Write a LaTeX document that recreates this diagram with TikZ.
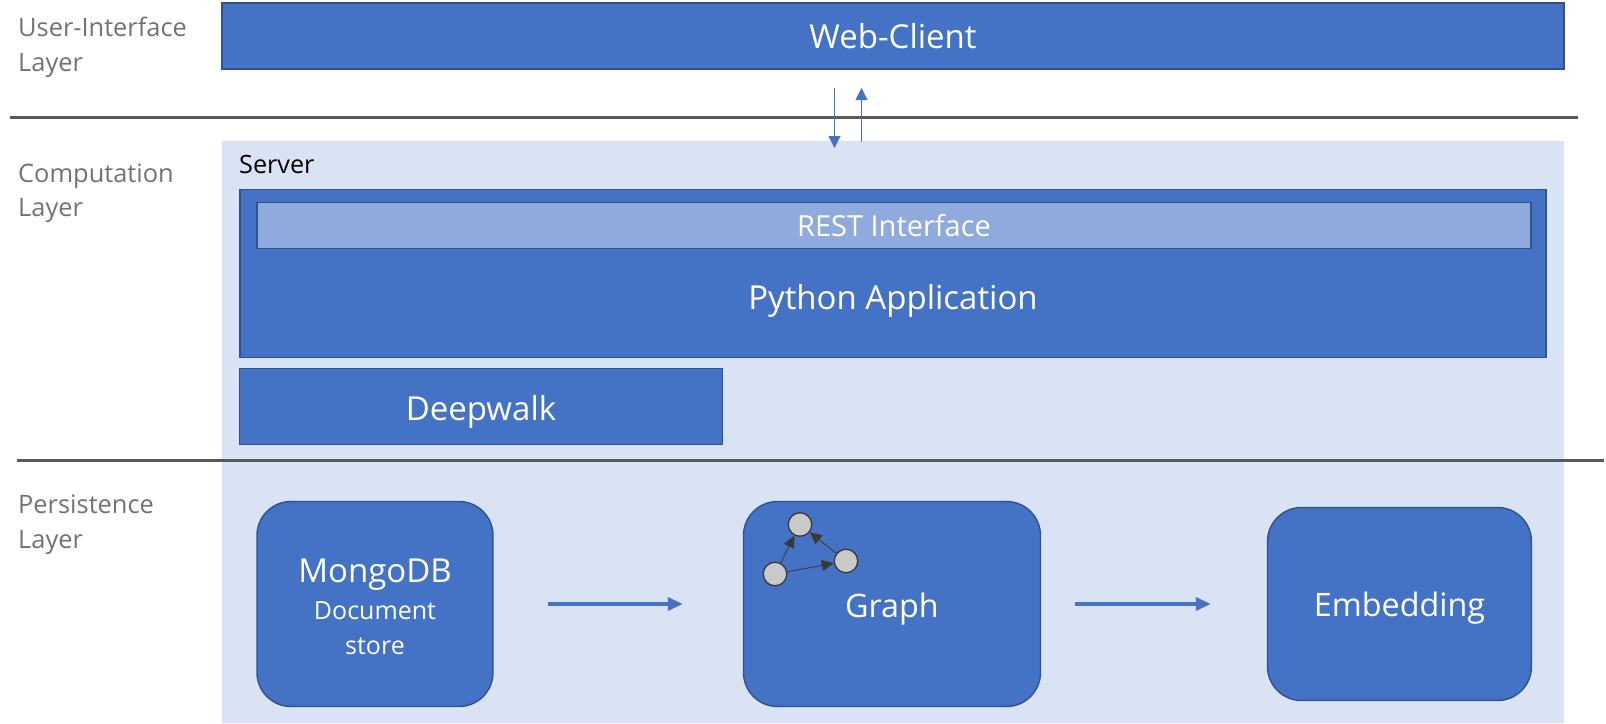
\documentclass[tikz,border=0pt]{standalone}
\usepackage{fontspec}
\setmainfont{Open Sans}
\usetikzlibrary{
		positioning,
		arrows.meta
	}
\tikzset{
		>={Triangle[length=12pt, width=12pt]}
	}
\definecolor{boxblue}{HTML}{4472C4}
\definecolor{boxedge}{HTML}{2F528F}
\definecolor{serverblue}{HTML}{DAE3F3}
\definecolor{restblue}{HTML}{8FAADC}
\definecolor{rulegray}{HTML}{595959}
\definecolor{labelgray}{HTML}{767171}
\definecolor{dotgray}{HTML}{C9C9C9}
\definecolor{dotedge}{HTML}{3B3838}

\begin{document}
\begin{tikzpicture}[x=1pt, y=-1pt,
				block/.style={draw=boxedge, line width=1.4pt, fill=boxblue, text=white, inner sep=0pt, font=\fontsize{33}{40}\selectfont},
				store/.style={block, rounded corners=34pt, align=center},
				dropped/.style={text height=35pt, text depth=7pt},
				layer/.style={anchor=west, align=left, inner sep=0pt, text=labelgray, font=\fontsize{25.4}{34.5}\selectfont},
				rulers/.style={draw=rulegray, line width=3pt},
				dot/.style={circle, draw=dotedge, line width=1.3pt, fill=dotgray, inner sep=0pt, minimum size=23.5pt},
				dotarrow/.style={draw=dotedge, line width=0.8pt, -{Triangle[length=12pt, width=11pt]}},
				flow/.style={draw=boxblue, line width=3.5pt, -{Triangle[length=15pt, width=13pt]}},
				call/.style={draw=boxblue, line width=1pt, ->}]
	\useasboundingbox (0,0) rectangle (1606,723);

	% layers
	\node[layer] (uilayer) at (18,47.5) {User-Interface\\Layer};
	\node[layer] (complayer) at (18,193) {Computation\\Layer};
	\node[layer] (perslayer) at (18,524.5) {Persistence\\Layer};

	% server background
	\node[fill=serverblue, inner sep=0pt, minimum width=1342pt, minimum height=582pt] (server) at (893,432) {};
	\node[anchor=west, inner sep=0pt, font=\fontsize{25.2}{30}\selectfont] (serverlabel) at (239,164) {Server};

	% boxes
	\node[block, minimum width=1342pt, minimum height=66pt] (webclient) at (893,36) {Web-Client};
	\node[block, minimum width=1306pt, minimum height=168pt] (python) at (893,273.5) {};
	\node[text=white, font=\fontsize{33}{40}\selectfont, inner sep=0pt] (pythonlabel) at (893,300.5) {Python Application};
	\node[block, fill=restblue, minimum width=1274pt, minimum height=46pt, font=\fontsize{29}{34}\selectfont] (rest) at (894,225.5) {REST Interface};
	\node[block, dropped, minimum width=483pt, minimum height=76pt] (deepwalk) at (481,406.5) {Deepwalk};

	% rules between the layers
	\coordinate (ruleAleft) at (10,117.5);
	\coordinate (ruleAright) at (1578,117.5);
	\coordinate (ruleBleft) at (17,460.5);
	\coordinate (ruleBright) at (1604,460.5);
	\draw[rulers] (ruleAleft) -- (ruleAright);
	\draw[rulers] (ruleBleft) -- (ruleBright);

	% calls between client and server
	\coordinate (downtop) at (834.5,88);
	\coordinate (downend) at (834.5,148);
	\coordinate (upstart) at (861.5,142);
	\coordinate (upend) at (861.5,88);
	\draw[call] (downtop) -- (downend);
	\draw[call] (upstart) -- (upend);

	% persistence
	\node[store, minimum width=236pt, minimum height=205pt] (mongodb) at (375,604) {\\[-11pt]MongoDB\\[-3pt]{\fontsize{25}{35}\selectfont Document}\\[-5pt]{\fontsize{25}{35}\selectfont store}};
	\node[store, dropped, text height=33pt, minimum width=297pt, minimum height=205pt, font=\fontsize{32.3}{40}\selectfont] (graph) at (892,604) {Graph};
	\node[store, dropped, text height=32pt, minimum width=264pt, minimum height=193pt, font=\fontsize{32.3}{40}\selectfont] (embedding) at (1399.5,604) {Embedding};
	\draw[flow, shorten <=54pt, shorten >=60pt] (mongodb) -- (graph);
	\draw[flow, shorten <=34pt, shorten >=56pt] (graph) -- (embedding);

	% small graph
	\node[dot] (dottop) at (800,524.5) {};
	\node[dot] (dotright) at (846,561) {};
	\node[dot] (dotleft) at (775,574) {};
	\draw[dotarrow] (dotleft) -- (dottop);
	\draw[dotarrow] (dotright) -- (dottop);
	\draw[dotarrow] (dotleft) -- (dotright);
\end{tikzpicture}
\end{document}
